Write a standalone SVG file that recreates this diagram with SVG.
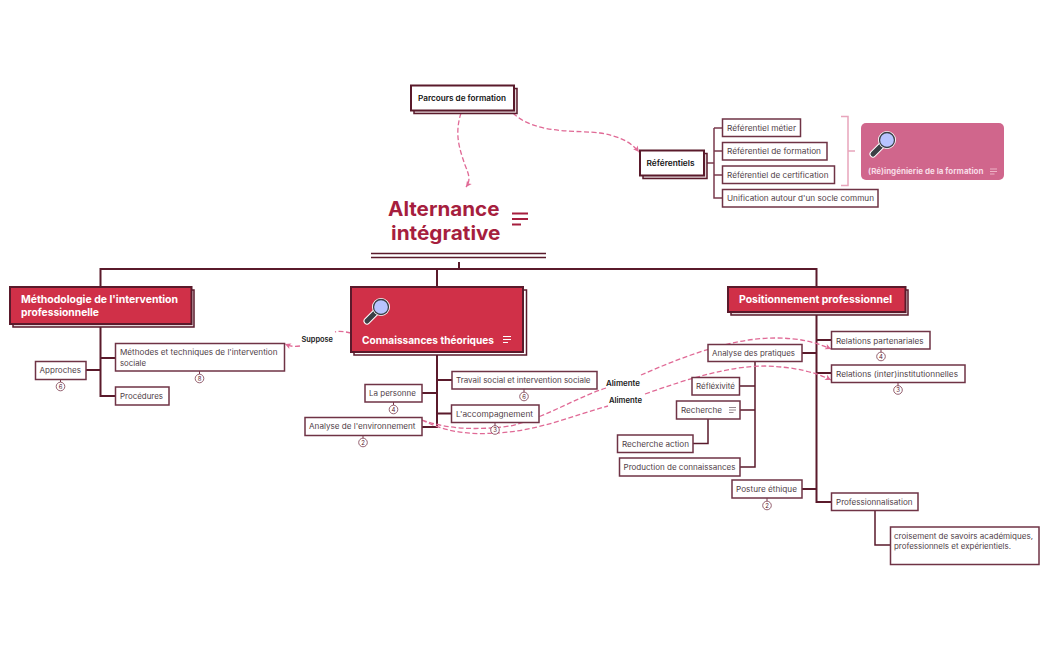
<svg xmlns="http://www.w3.org/2000/svg" xmlns:xlink="http://www.w3.org/1999/xlink" width="1049" height="650" viewBox="0 0 1049 650">
<style>
text{font-family:Inter,"Noto Sans","Liberation Sans",sans-serif}
.b{fill:#fff;stroke:#6f3345;stroke-width:1.5}
.s{fill:#fff;stroke:#5a1a2b;stroke-width:2}
.sh{fill:#e3d5d8;stroke:#5a1a2b;stroke-width:1.5}
.m{fill:#d03048;stroke:#5a1a2b;stroke-width:2}
.t{font-size:7.6px;fill:#4f4047}
.st{font-size:7.6px;font-weight:600;fill:#111}
.mt{font-size:10.4px;font-weight:700;fill:#fff}
.rl{font-size:7.4px;font-weight:600;fill:#1a1a1a}
.tree{fill:none;stroke:#5a1a2b;stroke-width:2}
.dash{fill:none;stroke:#e06a96;stroke-width:1.3;stroke-dasharray:5 2.5}
.bc{fill:#fff;stroke:#7a3a4c;stroke-width:.8}
.bt{font-size:6px;fill:#5a1a2b;text-anchor:middle}
</style>
<defs>
<marker id="arr" viewBox="0 0 8 8" refX="7" refY="4" markerWidth="6" markerHeight="6" orient="auto"><path d="M1 1L7 4L1 7L2.5 4Z" fill="#e06a96"/></marker>
<g id="mag">
<path d="M0 23L10 13" stroke="#fff" stroke-width="7" stroke-linecap="round"/>
<path d="M0 23L10 13" stroke="#3a3f45" stroke-width="5" stroke-linecap="round"/>
<circle cx="14" cy="9" r="7.5" fill="#b8c4ff" stroke="#fff" stroke-width="3"/>
<circle cx="14" cy="9" r="7.5" fill="#b8c4ff" stroke="#3a3f45" stroke-width="1.3"/>
</g>
<g id="note"><path d="M0 .5H8M0 3.500H8M0 6.500H5" fill="none" stroke="currentColor" stroke-width="1.2"/></g>
<g id="note-thin"><path d="M0 .5H7M0 3H7M0 5.500H4.500" fill="none" stroke="currentColor" stroke-width=".8"/></g>
</defs>

<g id="connectors">
<path class="tree" d="M100.500 287V269H816.500V287M437 269V287M459 262V269"/>
<path class="tree" d="M100.500 324V396H115M100.500 358H115M86 370H100.500"/>
<path class="tree" d="M437 352V427H422M437 380H452M437 413.500H452M422 393H437"/>
<path class="tree" d="M816.500 312V502H831M816.500 340H831M816.500 373H831M802 353H816.500M802 489H816.500"/>
<path class="tree" d="M755 361V467H740M740 386H755M740 410H755M708 419V443.500H693M875 511V545H890" style="stroke-width:1.500"/>
<path class="tree" d="M703 163H714M714 128V198H722M714 151H722M714 175H722M714 128H722" style="stroke-width:1.500;stroke:#7a3a4c"/>
<path d="M841 116.500H848V185.500H841M848 151H855" fill="none" stroke="#e8a5bc" stroke-width="1.500"/>
<path class="dash" d="M461 113C454 135 460 150 465 165C469 175 471 180 466 187" marker-end="url(#arr)"/>
<path class="dash" d="M513 113C535 135 580 130 600 133C618 136 630 141 639 152" marker-end="url(#arr)"/>
<path class="dash" d="M351 333C342 331 338 331 335 332"/>
<path class="dash" d="M300 346C293 347 290 346 285 344" marker-end="url(#arr)"/>
<path class="dash" d="M422 420C450 430 480 430 510 426C545 418 575 398 606 388"/>
<path class="dash" d="M641 375C680 358 730 338 775 338C800 338 815 342 831 349" marker-end="url(#arr)"/>
<path class="dash" d="M422 420C445 432 470 435 495 433C535 432 575 415 608 406"/>
<path class="dash" d="M645 394C690 378 730 366 765 366C795 367 815 372 831 380" marker-end="url(#arr)"/>
</g>

<g id="n-parcours">
<rect class="sh" x="414" y="88.500" width="103" height="25"/><rect class="s" x="411" y="85.500" width="103" height="25"/>
<text class="st" x="418" y="100.500" textLength="88" lengthAdjust="spacingAndGlyphs">Parcours de formation</text>
</g>
<g id="n-title">
<text x="388" y="215.500" font-size="19.500" font-weight="700" fill="#a61e3e" textLength="111.500" lengthAdjust="spacingAndGlyphs">Alternance</text>
<text x="391" y="240" font-size="19.500" font-weight="700" fill="#a61e3e" textLength="109.500" lengthAdjust="spacingAndGlyphs">intégrative</text>
<path d="M512 213.500H528M512 219H528M512 224.500H521" fill="none" stroke="#a61e3e" stroke-width="2"/>
<path d="M371 253.500H546M371 257.500H546" fill="none" stroke="#5a1a2b" stroke-width="1.500"/>
</g>
<g id="n-referentiels">
<rect class="sh" x="643" y="153.500" width="64" height="25"/><rect class="s" x="640" y="150.500" width="64" height="25"/>
<text class="st" x="646.500" y="165.500" textLength="48" lengthAdjust="spacingAndGlyphs">Référentiels</text>
</g>
<g id="n-ref1"><rect class="b" x="722.500" y="119" width="78" height="17.500"/><text class="t" x="727" y="130.500" textLength="69" lengthAdjust="spacingAndGlyphs">Référentiel métier</text></g>
<g id="n-ref2"><rect class="b" x="722.500" y="142.500" width="104.500" height="17.500"/><text class="t" x="727" y="154" textLength="94" lengthAdjust="spacingAndGlyphs">Référentiel de formation</text></g>
<g id="n-ref3"><rect class="b" x="722.500" y="166" width="112" height="17.500"/><text class="t" x="727" y="177.500" textLength="101.500" lengthAdjust="spacingAndGlyphs">Référentiel de certification</text></g>
<g id="n-ref4"><rect class="b" x="722.500" y="189.500" width="155.500" height="17.500"/><text class="t" x="727" y="201" textLength="147" lengthAdjust="spacingAndGlyphs">Unification autour d'un socle commun</text></g>
<g id="n-reing">
<rect x="861" y="123" width="143" height="57" rx="5" fill="#d0668c"/>
<use href="#mag" x="873" y="131"/>
<text x="868" y="174" font-size="8" font-weight="700" fill="#f8dce6" textLength="115.500" lengthAdjust="spacingAndGlyphs">(Ré)ingénierie de la formation</text>
<use href="#note-thin" x="990" y="168.500" color="#f4c6d6"/>
</g>

<g id="n-metho">
<rect class="sh" x="13" y="290" width="181" height="37"/><rect class="m" x="10" y="287" width="181.500" height="37"/>
<text class="mt" x="21" y="303" textLength="157" lengthAdjust="spacingAndGlyphs">Méthodologie de l'intervention</text>
<text class="mt" x="21" y="315.500" textLength="78" lengthAdjust="spacingAndGlyphs">professionnelle</text>
</g>
<g id="n-methodes"><rect class="b" x="115.500" y="343.500" width="169" height="27.500"/>
<text class="t" x="120" y="355" textLength="157.500" lengthAdjust="spacingAndGlyphs">Méthodes et techniques de l'intervention</text><text class="t" x="120" y="365.500" textLength="26" lengthAdjust="spacingAndGlyphs">sociale</text>
<path d="M199.500 371V374" stroke="#7a3a4c"/><circle class="bc" cx="199.500" cy="378.500" r="4.300"/><text class="bt" x="199.500" y="380.800">8</text></g>
<g id="n-approches"><rect class="b" x="35.500" y="361.500" width="50.500" height="18"/><text class="t" x="39.500" y="373" textLength="41.500" lengthAdjust="spacingAndGlyphs">Approches</text>
<path d="M60.500 379.500V382" stroke="#7a3a4c"/><circle class="bc" cx="60.500" cy="386.500" r="4.300"/><text class="bt" x="60.500" y="388.800">6</text></g>
<g id="n-procedures"><rect class="b" x="115.500" y="387" width="53.500" height="18"/><text class="t" x="120" y="398.500" textLength="43" lengthAdjust="spacingAndGlyphs">Procédures</text></g>

<g id="n-connaissances">
<rect class="sh" x="354" y="290" width="172.500" height="65" style="fill:#fff"/><rect class="m" x="351" y="287" width="172" height="65"/>
<use href="#mag" x="367" y="298"/>
<text class="mt" x="362" y="343.500" textLength="132" lengthAdjust="spacingAndGlyphs">Connaissances théoriques</text>
<use href="#note" x="503" y="336" color="#fff"/>
</g>
<g id="n-travail"><rect class="b" x="452" y="371.500" width="145" height="17.500"/><text class="t" x="456" y="383" textLength="134.500" lengthAdjust="spacingAndGlyphs">Travail social et intervention sociale</text>
<path d="M524 389V392" stroke="#7a3a4c"/><circle class="bc" cx="524" cy="396.500" r="4.300"/><text class="bt" x="524" y="398.800">6</text></g>
<g id="n-accomp"><rect class="b" x="451.500" y="405" width="87.500" height="17.500"/><text class="t" x="456" y="416.500" textLength="77" lengthAdjust="spacingAndGlyphs">L'accompagnement</text>
<path d="M495 422.500V426" stroke="#7a3a4c"/><circle class="bc" cx="495" cy="430" r="4.300"/><text class="bt" x="495" y="432.300">3</text></g>
<g id="n-personne"><rect class="b" x="365" y="384.500" width="57" height="17.500"/><text class="t" x="369" y="396" textLength="47" lengthAdjust="spacingAndGlyphs">La personne</text>
<path d="M393.500 402V405" stroke="#7a3a4c"/><circle class="bc" cx="393.500" cy="409.500" r="4.300"/><text class="bt" x="393.500" y="411.800">4</text></g>
<g id="n-analyse-env"><rect class="b" x="305" y="417.500" width="117" height="18"/><text class="t" x="309" y="429" textLength="106.500" lengthAdjust="spacingAndGlyphs">Analyse de l'environnement</text>
<path d="M363 435.500V438" stroke="#7a3a4c"/><circle class="bc" cx="363" cy="442.500" r="4.300"/><text class="bt" x="363" y="444.800">2</text></g>

<g id="n-positionnement">
<rect class="sh" x="731" y="290" width="177" height="25"/><rect class="m" x="728" y="287" width="177.500" height="25"/>
<text class="mt" x="739" y="303" textLength="153" lengthAdjust="spacingAndGlyphs">Positionnement professionnel</text>
</g>
<g id="n-part"><rect class="b" x="831.500" y="331.500" width="98.500" height="17.500"/><text class="t" x="836" y="343.500" textLength="87.500" lengthAdjust="spacingAndGlyphs">Relations partenariales</text>
<path d="M881 349V352" stroke="#7a3a4c"/><circle class="bc" cx="881" cy="356.500" r="4.300"/><text class="bt" x="881" y="358.800">4</text></g>
<g id="n-inst"><rect class="b" x="831.500" y="365" width="133.500" height="17.500"/><text class="t" x="836" y="377" textLength="122" lengthAdjust="spacingAndGlyphs">Relations (inter)institutionnelles</text>
<path d="M898 382.500V386" stroke="#7a3a4c"/><circle class="bc" cx="898" cy="390" r="4.300"/><text class="bt" x="898" y="392.300">3</text></g>
<g id="n-pratiques"><rect class="b" x="708" y="344.500" width="94" height="17"/><text class="t" x="712" y="356" textLength="83" lengthAdjust="spacingAndGlyphs">Analyse des pratiques</text></g>
<g id="n-reflex"><rect class="b" x="692" y="377.500" width="47.500" height="17.500"/><text class="t" x="696" y="389" textLength="39" lengthAdjust="spacingAndGlyphs">Réfléxivité</text></g>
<g id="n-recherche"><rect class="b" x="676.500" y="401" width="63.500" height="18"/><text class="t" x="681" y="413" textLength="41" lengthAdjust="spacingAndGlyphs">Recherche</text><use href="#note-thin" x="729" y="407" color="#7a6a70"/></g>
<g id="n-rechact"><rect class="b" x="617.500" y="435" width="75.500" height="17.500"/><text class="t" x="622" y="446.500" textLength="67" lengthAdjust="spacingAndGlyphs">Recherche action</text></g>
<g id="n-prod"><rect class="b" x="619.500" y="458" width="120.500" height="18"/><text class="t" x="623.500" y="470" textLength="112" lengthAdjust="spacingAndGlyphs">Production de connaissances</text></g>
<g id="n-posture"><rect class="b" x="732" y="480" width="70" height="18"/><text class="t" x="736" y="492" textLength="61" lengthAdjust="spacingAndGlyphs">Posture éthique</text>
<path d="M767 498V501" stroke="#7a3a4c"/><circle class="bc" cx="767" cy="505.500" r="4.300"/><text class="bt" x="767" y="507.800">2</text></g>
<g id="n-prof"><rect class="b" x="831.500" y="493" width="86.500" height="17.500"/><text class="t" x="836" y="505" textLength="76.500" lengthAdjust="spacingAndGlyphs">Professionnalisation</text></g>
<g id="n-croisement"><rect class="b" x="890.500" y="527" width="148.500" height="37.500"/>
<text class="t" x="894" y="538.500" textLength="139" lengthAdjust="spacingAndGlyphs">croisement de savoirs académiques,</text>
<text class="t" x="894" y="548.500" textLength="117" lengthAdjust="spacingAndGlyphs">professionnels et expérientiels.</text></g>

<g id="labels">
<text class="rl" x="301.500" y="342" textLength="31.500" lengthAdjust="spacingAndGlyphs">Suppose</text>
<text class="rl" x="606" y="386" textLength="34" lengthAdjust="spacingAndGlyphs">Alimente</text>
<text class="rl" x="609" y="403" textLength="33" lengthAdjust="spacingAndGlyphs">Alimente</text>
</g>
</svg>
